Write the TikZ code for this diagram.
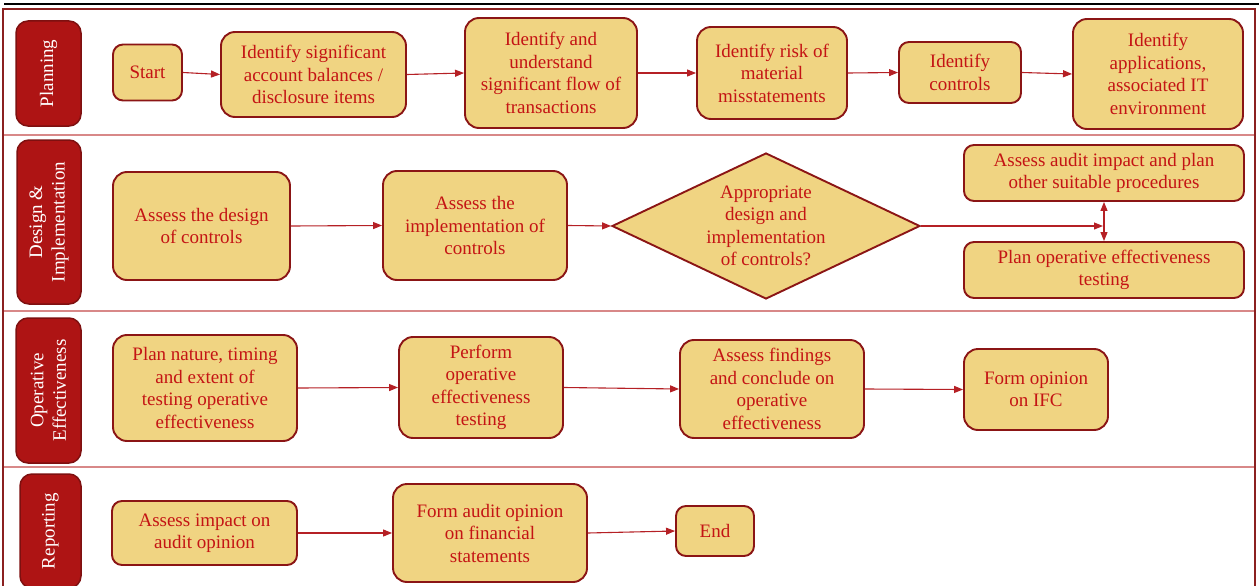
\documentclass[tikz,border=0pt]{standalone}
\usepackage{fontspec}
\setmainfont{Liberation Serif}
\usetikzlibrary{arrows.meta,shapes.geometric}
\definecolor{boxfill}{HTML}{F0D482}
\definecolor{boxline}{HTML}{8B1515}
\definecolor{boxtext}{HTML}{C41414}
\definecolor{lanefill}{HTML}{AE1414}
\definecolor{laneline}{HTML}{7E1010}
\definecolor{flowline}{HTML}{B52025}
\definecolor{sepline}{HTML}{D88888}
\definecolor{frameline}{HTML}{8B2020}
\begin{document}
\begin{tikzpicture}[x=1pt,y=-1pt,
  stepbox/.style={draw=boxline, line width=1.9pt, fill=boxfill, rounded corners=14pt,
    align=center, text=boxtext, font=\fontsize{19}{22.5}\selectfont, inner sep=0pt},
  decision/.style={stepbox, diamond, rounded corners=0pt, aspect=2.1},
  lanebox/.style={draw=laneline, line width=1.5pt, fill=lanefill, rounded corners=12pt,
    align=center, text=white, font=\fontsize{19}{22.5}\selectfont, inner sep=0pt, rotate=90},
  flow/.style={draw=flowline, line width=1.1pt, -{Triangle[length=9pt,width=7pt]}},
  twoway/.style={draw=flowline, line width=1.1pt, {Triangle[length=9pt,width=7pt]}-{Triangle[length=9pt,width=7pt]}},
]
\clip (0,0) rectangle (1259,586);

% page rule and outer frame
\draw[black, line width=1.4pt] (4,4) -- (1259,4);
\draw[frameline, line width=1.5pt] (3,600) -- (3,9) -- (1255,9) -- (1255,600);

% lane separators
\foreach \yy in {135,311,467}
  \draw[sepline, line width=1.8pt] (4,\yy) -- (1254,\yy);

% lane labels
\node[lanebox, minimum width=105pt, minimum height=65pt] (lplan) at (48.5,73.5) {Planning};
\node[lanebox, minimum width=164pt, minimum height=64pt] (ldesign) at (49,222) {Design \&\\Implementation};
\node[lanebox, minimum width=145pt, minimum height=65pt] (lop) at (48.5,390.5) {Operative\\Effectiveness};
\node[lanebox, minimum width=114pt, minimum height=61pt] (lrep) at (50.5,531) {Reporting};

% planning
\node[stepbox, rounded corners=10pt, minimum width=69pt, minimum height=56pt] (start) at (147.5,72.5) {Start};
\node[stepbox, minimum width=185pt, minimum height=85pt] (sig) at (313.5,74.5) {Identify significant\\account balances /\\disclosure items};
\node[stepbox, minimum width=172pt, minimum height=110pt] (flowtx) at (551,73) {Identify and\\understand\\significant flow of\\transactions};
\node[stepbox, minimum width=150pt, minimum height=92pt] (risk) at (772,73) {Identify risk of\\material\\misstatements};
\node[stepbox, rounded corners=10pt, minimum width=122pt, minimum height=61pt] (ctrl) at (960,72.5) {Identify\\controls};
\node[stepbox, minimum width=170pt, minimum height=110pt] (apps) at (1158,74) {Identify\\applications,\\associated IT\\environment};

\draw[flow] (start.east) -- (sig.west);
\draw[flow] (sig.east) -- (flowtx.west);
\draw[flow] (flowtx.east) -- (risk.west);
\draw[flow] (risk.east) -- (ctrl.west);
\draw[flow] (ctrl.east) -- (apps.west);

% design & implementation
\node[stepbox, minimum width=177pt, minimum height=108pt] (design) at (201.5,226) {Assess the design\\of controls};
\node[stepbox, minimum width=184pt, minimum height=109pt] (impl) at (475,225.5) {Assess the\\implementation of\\controls};
\node[decision, minimum width=308pt, minimum height=146pt] (ok) at (766,226) {Appropriate\\design and\\implementation\\of controls?};
\node[stepbox, rounded corners=10pt, minimum width=280pt, minimum height=56pt] (impact) at (1104,173) {Assess audit impact and plan\\other suitable procedures};
\node[stepbox, rounded corners=10pt, minimum width=280pt, minimum height=56pt] (planoe) at (1104,270) {Plan operative effectiveness\\testing};
\coordinate (fork) at (1103,226);

\draw[flow] (design.east) -- (impl.west);
\draw[flow] (impl.east) -- (ok.west);
\draw[flow] (ok.east) -- (fork);
\draw[twoway] (impact.south) -- (planoe.north);

% operative effectiveness
\node[stepbox, minimum width=184pt, minimum height=106pt] (nature) at (205,388) {Plan nature, timing\\and extent of\\testing operative\\effectiveness};
\node[stepbox, minimum width=164pt, minimum height=101pt] (perform) at (481,387.5) {Perform\\operative\\effectiveness\\testing};
\node[stepbox, minimum width=184pt, minimum height=98pt] (findings) at (772,389) {Assess findings\\and conclude on\\operative\\effectiveness};
\node[stepbox, minimum width=144pt, minimum height=81pt] (ifc) at (1036,389.5) {Form opinion\\on IFC};

\draw[flow] (nature.east) -- (perform.west);
\draw[flow] (perform.east) -- (findings.west);
\draw[flow] (findings.east) -- (ifc.west);

% reporting
\node[stepbox, rounded corners=10pt, minimum width=185pt, minimum height=64pt] (assess) at (204.5,533) {Assess impact on\\audit opinion};
\node[stepbox, minimum width=194pt, minimum height=98pt] (fs) at (490,533) {Form audit opinion\\on financial\\statements};
\node[stepbox, rounded corners=10pt, minimum width=78pt, minimum height=50pt] (finish) at (715,531) {End};

\draw[flow] (assess.east) -- (fs.west);
\draw[flow] (fs.east) -- (finish.west);
\end{tikzpicture}
\end{document}
